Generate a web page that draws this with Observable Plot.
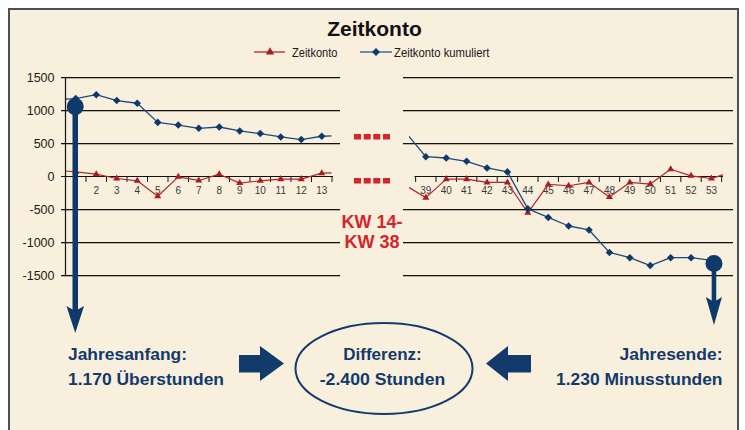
<!DOCTYPE html>
<html>
<head>
<meta charset="utf-8">
<script src="https://cdn.jsdelivr.net/npm/d3@7"></script>
<script src="https://cdn.jsdelivr.net/npm/@observablehq/plot@0.6"></script>
<style>
  html, body { margin: 0; padding: 0; background: #ffffff; }
  #wrap { position: relative; width: 745px; height: 430px; overflow: hidden; }
  #frame { position: absolute; left: 8px; top: 8px; width: 731px; height: 440px; box-sizing: border-box;
           border: 2px solid #4f4f4f; background: #f9efdd; }
  .layer { position: absolute; left: 0; top: 0; }
</style>
</head>
<body>
<div id="wrap"><div id="frame"></div></div>
<script>
// ---------------- data ----------------
const title = "Zeitkonto";
const seriesNames = ["Zeitkonto", "Zeitkonto kumuliert"];

// first block of calendar weeks (KW 1–13, with the neighbouring weeks only partly visible)
const weeksStart = [0, 1, 2, 3, 4, 5, 6, 7, 8, 9, 10, 11, 12, 13, 14];
const zeitkontoStart = [95, 70, 35, -30, -65, -300, -5, -60, 35, -100, -65, -40, -40, 50, 60];
const kumuliertStart = [1165, 1180, 1240, 1150, 1110, 820, 780, 730, 750, 690, 650, 600, 560, 610, 620];

// last block of calendar weeks (KW 39–53)
const weeksEnd = [38, 39, 40, 41, 42, 43, 44, 45, 46, 47, 48, 49, 50, 51, 52, 53, 54];
const zeitkontoEnd = [-135, -320, -40, -40, -90, -90, -550, -120, -140, -90, -310, -90, -115, 110, 10, -30, 70];
const kumuliertEnd = [670, 300, 280, 230, 130, 70, -490, -620, -750, -810, -1150, -1230, -1350, -1230, -1230, -1270, null];

const yTicks = [1500, 1000, 500, 0, -500, -1000, -1500];
const weekLabelsStart = [2, 3, 4, 5, 6, 7, 8, 9, 10, 11, 12, 13];
const weekLabelsEnd = [39, 40, 41, 42, 43, 44, 45, 46, 47, 48, 49, 50, 51, 52, 53];

const gapLabel = ["KW 14-", "KW 38"];
const startText = ["Jahresanfang:", "1.170 Überstunden"];
const diffText = ["Differenz:", "-2.400 Stunden"];
const endText = ["Jahresende:", "1.230 Minusstunden"];

// ---------------- style ----------------
const RED = "#a81d1f";
const RED_LINE = "#b2292b";
const BLUE = "#0d3a6b";
const BLUE_LINE = "#1d4a7c";
const NAVY = "#123a6b";
const ALERT = "#d5242b";
const SANS = "'Liberation Sans', Arial, sans-serif";

function panel({weeks, zeit, kum, labels, domain, marginLeft, marginRight,
                gridInsetLeft, gridInsetRight, axisInsetLeft, axisInsetRight, withAxis}) {
  const rows = weeks.map((w, i) => ({week: w, zeit: zeit[i], kum: kum[i]}));
  const visible = rows.filter(d => d.week > domain[0] && d.week < domain[1]);
  const bounds = [visible[0].week - 0.5, ...visible.map(d => d.week + 0.5)];
  const marks = [
    Plot.ruleY(yTicks.filter(v => v !== 0), {stroke: "#b9b0a0", strokeWidth: 1, dy: 1,
      insetLeft: gridInsetLeft, insetRight: gridInsetRight}),
    Plot.ruleY(yTicks.filter(v => v !== 0), {stroke: "#111", strokeWidth: 1.1,
      insetLeft: gridInsetLeft, insetRight: gridInsetRight}),
    Plot.ruleY([0], {stroke: "#111", strokeWidth: 1.2, insetLeft: axisInsetLeft, insetRight: axisInsetRight}),
    Plot.ruleX(bounds, {x: d => d, y1: 0, y2: -90, stroke: "#111", strokeWidth: 1}),
    Plot.text(labels, {x: d => d, y: 0, dy: 14, text: d => String(d), fontSize: 10,
      fontFamily: SANS, fill: "#3a3a3a"}),
    Plot.line(rows, {x: "week", y: "zeit", stroke: RED_LINE, strokeWidth: 1.2, clip: true}),
    Plot.line(rows, {x: "week", y: "kum", stroke: BLUE_LINE, strokeWidth: 1.3, clip: true}),
    Plot.dot(visible, {x: "week", y: "zeit", symbol: "triangle", r: 2.6, fill: RED, stroke: "none"}),
    Plot.dot(visible.filter(d => d.kum != null), {x: "week", y: "kum", symbol: "diamond2", r: 3.4, fill: BLUE, stroke: "none"})
  ];
  if (withAxis) marks.push(Plot.frame({anchor: "left", stroke: "#111", strokeWidth: 1.2}));
  return Plot.plot({
    width: 745, height: 430,
    marginTop: 77, marginBottom: 155, marginLeft, marginRight,
    style: {background: "transparent", overflow: "visible", fontFamily: SANS, fontSize: "12.5px", color: "#1a1a1a"},
    x: {type: "linear", domain, axis: null},
    y: withAxis
      ? {domain: [-1500, 1500], ticks: yTicks, tickSize: 4, tickPadding: 7, label: null, tickFormat: d => String(d)}
      : {domain: [-1500, 1500], axis: null},
    marks
  });
}

const wrap = document.getElementById("wrap");

const leftPlot = panel({
  weeks: weeksStart, zeit: zeitkontoStart, kum: kumuliertStart, labels: weekLabelsStart,
  domain: [0.5, 13.5], marginLeft: 65, marginRight: 745 - 331.5,
  gridInsetLeft: -4, gridInsetRight: -8.5, axisInsetLeft: 0, axisInsetRight: -1.5, withAxis: true
});
const rightPlot = panel({
  weeks: weeksEnd, zeit: zeitkontoEnd, kum: kumuliertEnd, labels: weekLabelsEnd,
  domain: [38.2, 53.59], marginLeft: 409, marginRight: 22,
  gridInsetLeft: -6, gridInsetRight: -10, axisInsetLeft: 5.5, axisInsetRight: 0, withAxis: false
});
for (const p of [leftPlot, rightPlot]) { p.classList.add("layer"); wrap.appendChild(p); }

// ---------------- annotations ----------------
const svg = d3.select(wrap).append("svg").attr("class", "layer")
  .attr("width", 745).attr("height", 430).style("overflow", "visible");

// title + legend
svg.append("text").attr("x", 374.5).attr("y", 36).attr("text-anchor", "middle")
  .attr("font-family", SANS).attr("font-weight", "bold").attr("font-size", 21).attr("fill", "#111").text(title);

const legend = svg.append("g").attr("font-family", SANS).attr("font-size", 13.5).attr("fill", "#1a1a1a");
legend.append("line").attr("x1", 254).attr("x2", 285).attr("y1", 52).attr("y2", 52).attr("stroke", "#cf6c6a").attr("stroke-width", 2);
legend.append("path").attr("transform", "translate(270,52)").attr("d", d3.symbol(d3.symbolTriangle, 30)()).attr("fill", RED);
legend.append("text").attr("x", 292).attr("y", 57).attr("textLength", 45.5).attr("lengthAdjust", "spacingAndGlyphs").text(seriesNames[0]);
legend.append("line").attr("x1", 360).attr("x2", 392).attr("y1", 52).attr("y2", 52).attr("stroke", "#6c8db0").attr("stroke-width", 2);
legend.append("path").attr("transform", "translate(376,52)").attr("d", d3.symbol(d3.symbolDiamond2, 40)()).attr("fill", BLUE);
legend.append("text").attr("x", 394).attr("y", 57).attr("textLength", 95.5).attr("lengthAdjust", "spacingAndGlyphs").text(seriesNames[1]);

// break marks between the two blocks
for (const yRow of [134, 178]) {
  for (const xs of [354, 363.7, 373.3, 383]) {
    svg.append("rect").attr("x", xs).attr("y", yRow).attr("width", 7).attr("height", 5.5).attr("fill", ALERT);
  }
}
svg.append("g").attr("font-family", SANS).attr("font-weight", "bold").attr("font-size", 18)
  .attr("fill", ALERT).attr("text-anchor", "middle")
  .selectAll("text").data(gapLabel).join("text")
  .attr("x", 372).attr("y", (d, i) => 228 + i * 20).text(d => d);

// start / end markers with arrows (placed with the plots' own scales)
function stealth(x, tip, len, half, notch) {
  return `M${x},${tip} L${x - half},${tip - len} L${x},${tip - len + notch} L${x + half},${tip - len} Z`;
}
const lx = leftPlot.scale("x").apply(weeksStart[1]);
const ly = leftPlot.scale("y").apply(kumuliertStart[1]) + 8.5;
const rx = rightPlot.scale("x").apply(weeksEnd[15]) + 3;
const ry = rightPlot.scale("y").apply(kumuliertEnd[15]) + 3.7;

svg.append("line").attr("x1", lx).attr("x2", lx).attr("y1", ly).attr("y2", 312).attr("stroke", BLUE).attr("stroke-width", 5.5);
svg.append("circle").attr("cx", lx).attr("cy", ly).attr("r", 8.5).attr("fill", BLUE);
svg.append("path").attr("d", stealth(lx, 333, 27, 8.8, 5)).attr("fill", BLUE);

svg.append("line").attr("x1", rx).attr("x2", rx).attr("y1", ry).attr("y2", 303).attr("stroke", BLUE).attr("stroke-width", 4.6);
svg.append("circle").attr("cx", rx).attr("cy", ry).attr("r", 8.5).attr("fill", BLUE);
svg.append("path").attr("d", stealth(rx, 325, 28, 8, 5)).attr("fill", BLUE);

// bottom summary
const bottom = svg.append("g").attr("font-family", SANS).attr("font-weight", "bold").attr("font-size", 16.5).attr("fill", NAVY);
function line(t, x, y, anchor, len) {
  bottom.append("text").attr("x", x).attr("y", y).attr("text-anchor", anchor)
    .attr("textLength", len).attr("lengthAdjust", "spacingAndGlyphs").text(t);
}
line(startText[0], 68, 359.5, "start", 119);
line(startText[1], 68, 385, "start", 156);
line(diffText[0], 382.5, 359.5, "middle", 78.5);
line(diffText[1], 382.5, 385, "middle", 125.5);
line(endText[0], 722.5, 359.5, "end", 103);
line(endText[1], 722.5, 385, "end", 166.5);

svg.append("ellipse").attr("cx", 384).attr("cy", 368.5).attr("rx", 88.5).attr("ry", 45.5)
  .attr("fill", "none").attr("stroke", NAVY).attr("stroke-width", 2);

// block arrows pointing at the difference
svg.append("path").attr("d", "M239,355 L260,355 L260,346 L284,363.5 L260,381 L260,372.5 L239,372.5 Z").attr("fill", NAVY);
svg.append("path").attr("d", "M531,355 L508,355 L508,346 L486,363.5 L508,381 L508,372.5 L531,372.5 Z").attr("fill", NAVY);
</script>
</body>
</html>
